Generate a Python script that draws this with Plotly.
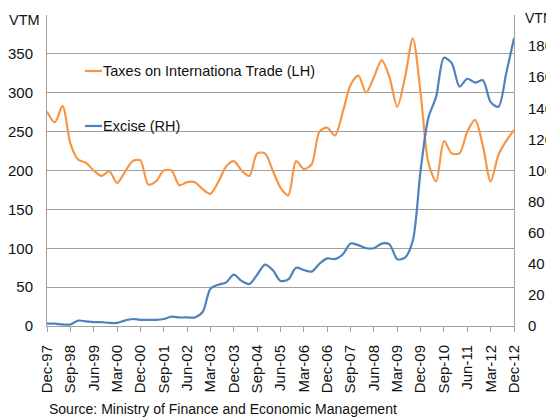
import plotly.graph_objects as go

# Quarterly, Dec-97 .. Dec-12 (61 quarters)
tick_labels = ["Dec-97", "Sep-98", "Jun-99", "Mar-00", "Dec-00", "Sep-01", "Jun-02",
               "Mar-03", "Dec-03", "Sep-04", "Jun-05", "Mar-06", "Dec-06", "Sep-07",
               "Jun-08", "Mar-09", "Dec-09", "Sep-10", "Jun-11", "Mar-12", "Dec-12"]

taxes_trade = [276, 262, 283, 235, 214, 210, 200, 193, 199, 184,
               198, 212, 213, 182, 186, 200, 200, 181, 185, 185,
               176, 170, 185, 205, 212, 200, 193, 222, 222, 200,
               178, 168, 212, 202, 208, 250, 255, 245, 275, 310,
               322, 300, 320, 342, 320, 282, 320, 370, 300, 210,
               186, 238, 222, 222, 250, 265, 232, 186, 220, 238,
               252]

excise = [1.5, 1.5, 1.0, 1.0, 3.5, 3.0, 2.5, 2.5, 2.0, 2.0,
          3.5, 4.5, 4.0, 4.0, 4.0, 4.5, 6.0, 5.5, 5.5, 5.5,
          9.0, 24.0, 26.5, 28.0, 33.0, 29.0, 27.0, 33.0, 39.5, 36.0,
          29.0, 30.0, 37.5, 36.0, 35.0, 40.0, 43.5, 43.0, 46.0, 53.0,
          52.0, 50.0, 50.0, 53.0, 52.5, 43.0, 44.0, 55.0, 100.0, 134.0,
          147.5, 172.5, 169.0, 154.0, 159.0, 156.5, 158.0, 144.0, 141.0, 162.5,
          185.0]

quarters = list(range(len(taxes_trade)))
tick_pos = [i * 3 for i in range(len(tick_labels))]

ORANGE = "#F79646"
BLUE = "#4F81BD"
GRID = "#A0A0A0"
FONT = "Liberation Sans"
TXT = "#111111"

# page has an 8px body margin: figure occupies (8,8)-(554,417)
O = 8
W, H = 554 - O, 417 - O
L, R, T, B = 47 - O, 554 - 514, 15 - O, 417 - 326
PW, PH = W - L - R, H - T - B


def px(x):  # screen pixel -> paper
    return (x - O - L) / PW


def py(y):
    return (H + O - B - y) / PH


fig = go.Figure()
fig.add_trace(go.Scatter(x=quarters, y=taxes_trade, mode="lines",
                         line=dict(color=ORANGE, width=2.2, shape="spline", smoothing=0.8),
                         name="Taxes on Internationa Trade (LH)", yaxis="y"))
fig.add_trace(go.Scatter(x=quarters, y=excise, mode="lines",
                         line=dict(color=BLUE, width=2.2, shape="spline", smoothing=0.8),
                         name="Excise (RH)", yaxis="y2"))

left_vals = [0, 50, 100, 150, 200, 250, 300, 350, 400]
left_text = ["0", "50", "100", "150", "200", "250", "300", "350", ""]
right_vals = [0, 20, 40, 60, 80, 100, 120, 140, 160, 180]
right_text = ["0", "20", "40", "60", "80", "100", "120", "140", "160", "180"]

fig.update_layout(
    width=W, height=H,
    margin=dict(l=L, r=R, t=T, b=B, autoexpand=False),
    paper_bgcolor="white", plot_bgcolor="white",
    font=dict(family=FONT, size=15, color=TXT),
    showlegend=False,
    xaxis=dict(range=[0, 60], tickvals=tick_pos, ticktext=tick_labels,
               tickangle=-90, showgrid=False, showline=True, linecolor=GRID,
               linewidth=1, ticks="outside", ticklen=5, tickcolor=GRID,
               tickfont=dict(size=15), zeroline=False, automargin=False,
               ticklabelstandoff=7),
    yaxis=dict(range=[0, 400], tickvals=left_vals, ticktext=left_text,
               showgrid=True, gridcolor=GRID, gridwidth=1, showline=True,
               linecolor=GRID, linewidth=1, ticks="", zeroline=False,
               tickfont=dict(size=15), automargin=False, ticklabelstandoff=10),
    yaxis2=dict(range=[0, 200], tickvals=right_vals, ticktext=right_text,
                overlaying="y", side="right", showgrid=False, showline=True,
                linecolor=GRID, linewidth=1, ticks="", zeroline=False,
                tickfont=dict(size=15), automargin=False, ticklabelstandoff=10),
)

# axis unit labels
fig.add_annotation(xref="paper", yref="paper", x=px(41), y=py(20),
                   xanchor="right", yanchor="middle", showarrow=False,
                   text="VTM", font=dict(size=14.5), borderpad=0)
fig.add_annotation(xref="paper", yref="paper", x=px(524), y=py(18),
                   xanchor="left", yanchor="middle", showarrow=False,
                   text="VTM", font=dict(size=14), borderpad=0)

# legend drawn in place
for yy, col, label in [(71, ORANGE, "Taxes on Internationa Trade (LH)"),
                       (126, BLUE, "Excise (RH)")]:
    fig.add_shape(type="line", xref="paper", yref="paper",
                  x0=px(85), x1=px(102), y0=py(yy), y1=py(yy),
                  line=dict(color=col, width=2.2))
    fig.add_annotation(xref="paper", yref="paper", x=px(102), y=py(yy),
                       xanchor="left", yanchor="middle", showarrow=False,
                       text=label, font=dict(size=14.5), borderpad=0)

fig.add_annotation(xref="paper", yref="paper", x=px(48), y=py(409),
                   xanchor="left", yanchor="middle", showarrow=False,
                   text="Source: Ministry of Finance and Economic Management",
                   font=dict(size=14), borderpad=0)

fig.write_html("out.html")
